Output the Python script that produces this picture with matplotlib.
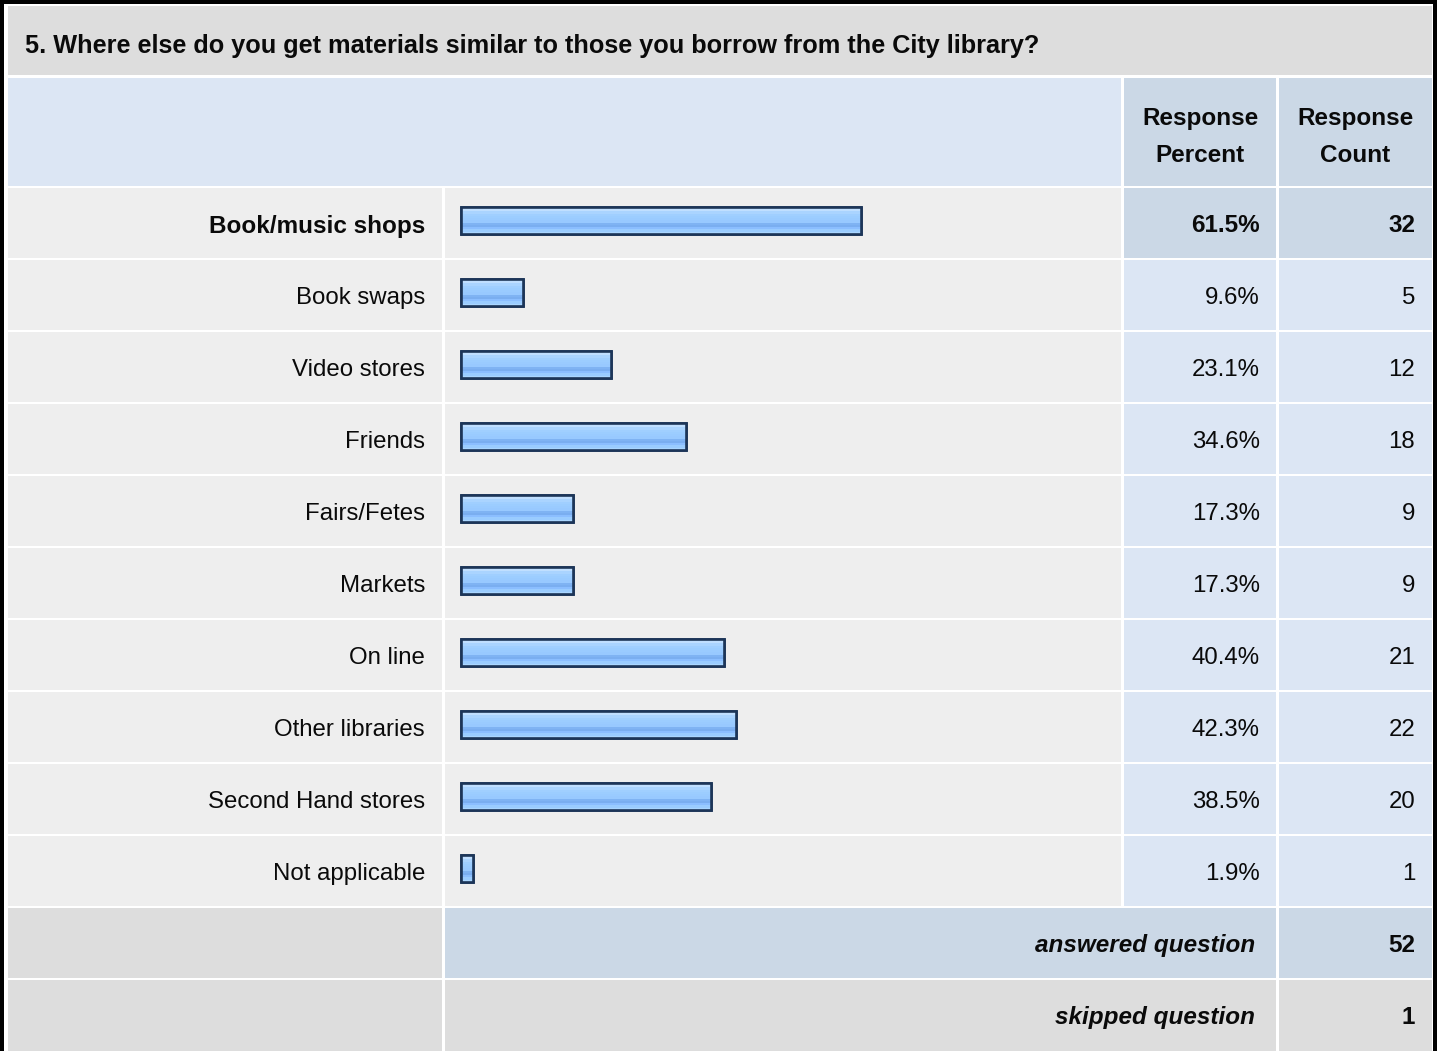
import matplotlib
matplotlib.use("Agg")
import matplotlib.pyplot as plt
from matplotlib.patches import Rectangle
from matplotlib.colors import to_rgb
import numpy as np

plt.rcParams['font.family'] = ['Liberation Sans', 'DejaVu Sans']

# ---- data ----
title = "5. Where else do you get materials similar to those you borrow from the City library?"
categories = ["Book/music shops", "Book swaps", "Video stores", "Friends", "Fairs/Fetes",
              "Markets", "On line", "Other libraries", "Second Hand stores", "Not applicable"]
percents = [61.5, 9.6, 23.1, 34.6, 17.3, 17.3, 40.4, 42.3, 38.5, 1.9]
counts = [32, 5, 12, 18, 9, 9, 21, 22, 20, 1]
answered = 52
skipped = 1
header_cols = ["Response\nPercent", "Response\nCount"]

W, H = 1437, 1051
fig = plt.figure(figsize=(W / 100, H / 100), dpi=100)
fig.patch.set_facecolor("white")

# pixel-layout axes for table cells and text
ax = fig.add_axes([0, 0, 1, 1])
ax.set_xlim(0, W)
ax.set_ylim(H, 0)
ax.axis("off")

GRAY = "#DDDDDD"
ROWBG = "#EEEEEE"
LBLUE = "#DCE6F4"
DBLUE = "#CBD8E6"
TXT = "#0A0A0A"
FS = 17.3
FSB = 17.5

def cell(x0, x1, y0, y1, c):
    ax.add_patch(Rectangle((x0, y0), x1 - x0, y1 - y0, facecolor=c, edgecolor="none", zorder=1))

# outer border
ax.add_patch(Rectangle((0, 0), W, 4, facecolor="black", edgecolor="none", zorder=3))
ax.add_patch(Rectangle((0, 0), 4, H, facecolor="black", edgecolor="none", zorder=3))
ax.add_patch(Rectangle((W - 4, 0), 4, H, facecolor="black", edgecolor="none", zorder=3))

# columns
LX0, LX1 = 8, 441.5
BX0, BX1 = 444.5, 1121
PX0, PX1 = 1124, 1276
CX0, CX1 = 1279, 1432

# title band
cell(8, 1432, 6, 75, GRAY)
ax.text(25, 46, title, ha="left", va="center", fontsize=18.2, fontweight="bold", color=TXT)

# header row
cell(LX0, BX1, 78, 186, LBLUE)
cell(PX0, PX1, 78, 186, DBLUE)
cell(CX0, CX1, 78, 186, DBLUE)
for hdr, (x0, x1) in zip(header_cols, [(PX0, PX1), (CX0, CX1)]):
    l1, l2 = hdr.split("\n")
    xc = (x0 + x1) / 2
    ax.text(xc, 119, l1, ha="center", va="center", fontsize=FSB, fontweight="bold", color=TXT)
    ax.text(xc, 156, l2, ha="center", va="center", fontsize=FSB, fontweight="bold", color=TXT)

# data rows
ROW0 = 188
PITCH = 72
RH = 70
imax = int(np.argmax(percents))
for i, (cat, p, c) in enumerate(zip(categories, percents, counts)):
    y0 = ROW0 + PITCH * i
    y1 = y0 + RH
    yc = (y0 + y1) / 2 + 3
    hi = (i == imax)
    cell(LX0, LX1, y0, y1, ROWBG)
    cell(BX0, BX1, y0, y1, ROWBG)
    cell(PX0, PX1, y0, y1, DBLUE if hi else LBLUE)
    cell(CX0, CX1, y0, y1, DBLUE if hi else LBLUE)
    fw = "bold" if hi else "normal"
    fs = FSB if hi else FS
    ax.text(425, yc, cat, ha="right", va="center", fontsize=fs, fontweight=fw, color=TXT)
    ax.text(1260, yc, f"{p:.1f}%", ha="right", va="center", fontsize=fs, fontweight=fw, color=TXT)
    ax.text(1415, yc, f"{c}", ha="right", va="center", fontsize=fs, fontweight=fw, color=TXT)

# answered / skipped rows
ya0 = ROW0 + PITCH * len(categories)
cell(LX0, LX1, ya0, ya0 + RH, GRAY)
cell(BX0, PX1, ya0, ya0 + RH, DBLUE)
cell(CX0, CX1, ya0, ya0 + RH, DBLUE)
ax.text(1255, ya0 + RH / 2 + 2.5, "answered question", ha="right", va="center", fontsize=FSB,
        fontweight="bold", style="italic", color=TXT)
ax.text(1415, ya0 + RH / 2 + 2.5, f"{answered}", ha="right", va="center", fontsize=FSB,
        fontweight="bold", color=TXT)
ys0 = ya0 + PITCH
cell(LX0, LX1, ys0, H + 5, GRAY)
cell(BX0, PX1, ys0, H + 5, GRAY)
cell(CX0, CX1, ys0, H + 5, GRAY)
ax.text(1255, ys0 + RH / 2 + 2.5, "skipped question", ha="right", va="center", fontsize=FSB,
        fontweight="bold", style="italic", color=TXT)
ax.text(1415, ys0 + RH / 2 + 2.5, f"{skipped}", ha="right", va="center", fontsize=FSB,
        fontweight="bold", color=TXT)

# ---- bars: own axes with percent scale ----
PX_PER_PCT = 6.5
BAR_X0 = 461
bax = fig.add_axes([0, 0, 1, 1], facecolor="none")
row_c0 = ROW0 + 32.5   # bar centre of first row (pixels)
xlim = (-BAR_X0 / PX_PER_PCT, (W - BAR_X0) / PX_PER_PCT)
ylim = ((H - row_c0) / PITCH, -row_c0 / PITCH)
bax.set_xlim(*xlim)
bax.set_ylim(*ylim)
bax.axis("off")
ypos = np.arange(len(categories))
bh = 27 / PITCH
EDGE = "#1C3558"
bars = bax.barh(ypos, percents, height=bh, left=0, color="#99C9FF",
                edgecolor=EDGE, linewidth=1.9, zorder=3)

grad_colors = ["#D4EBFF", "#C0DFFF", "#AAD4FF", "#A0CFFF", "#9CCDFF", "#9ACBFF",
               "#98C9FF", "#7FB3F3", "#7AAEF0", "#8BBEFF", "#9ACCFF", "#AAD6FF"]
grad = np.array([to_rgb(c) for c in grad_colors])[:, None, :]
for b in bars:
    x0, y0 = b.get_x(), b.get_y()
    w, h = b.get_width(), b.get_height()
    im = bax.imshow(grad, extent=(x0, x0 + w, y0 + h, y0), aspect="auto",
                    interpolation="nearest", zorder=3.5)
    im.set_clip_path(b)
    bax.add_patch(Rectangle((x0, y0), w, h, facecolor="none", edgecolor=EDGE,
                            linewidth=1.9, zorder=4))

bax.set_xlim(*xlim)
bax.set_ylim(*ylim)

fig.savefig("out.png", dpi=100, facecolor="white")
